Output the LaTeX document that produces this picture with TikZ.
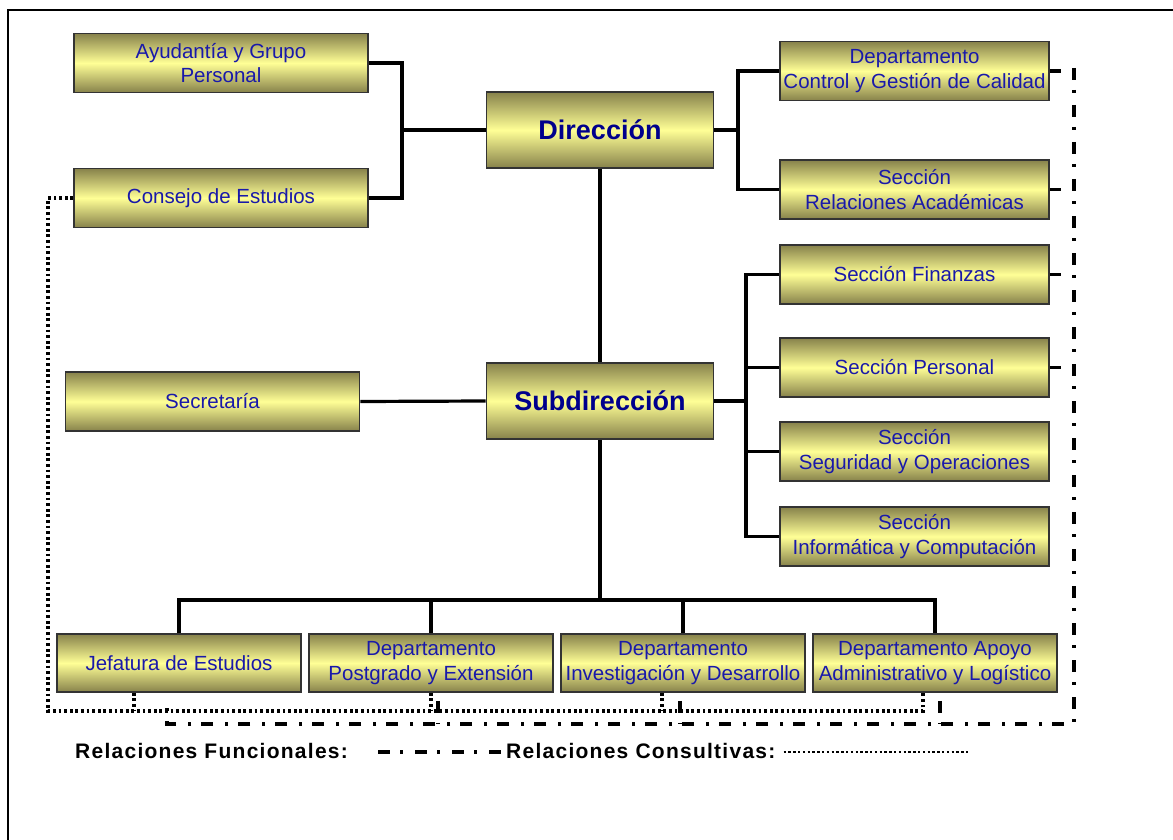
\documentclass[tikz,border=0pt]{standalone}
\usepackage{fontspec}
\setmainfont{Liberation Sans}
\usetikzlibrary{shapes}

\definecolor{boxdark}{RGB}{135,130,75}
\definecolor{boxlight}{RGB}{255,255,150}
\definecolor{boxtext}{RGB}{25,25,170}
\definecolor{headtext}{RGB}{0,0,140}

\begin{document}
\begin{tikzpicture}[x=1pt,y=-1pt]
\tikzstyle{unit}=[
	rectangle,
	draw=black!80, line width=1.6pt,
	top color=boxdark, bottom color=boxdark, middle color=boxlight,
	text=boxtext, align=center, inner sep=0pt,
	font=\fontsize{20.5}{24.5}\selectfont ]
\tikzstyle{wide}=[unit, minimum width=294pt, minimum height=59pt]
\tikzstyle{side}=[unit, minimum width=269pt, minimum height=59pt]
\tikzstyle{low}=[unit, minimum width=244pt, minimum height=58pt]
\tikzstyle{head}=[unit, minimum width=227pt, minimum height=76pt,
	text=headtext, font=\fontsize{27}{30}\selectfont\bfseries]
\tikzstyle{link}=[line width=3.2pt]
\tikzstyle{consult}=[line width=3.2pt, dash pattern=on 2.8pt off 2.8pt]
\tikzstyle{funct}=[line width=3.2pt, dash pattern=on 12pt off 10pt on 3pt off 12pt]
\tikzstyle{legend}=[inner sep=0pt, anchor=west,
	font=\fontsize{21}{24}\selectfont\bfseries\addfontfeatures{LetterSpace=6}]

\useasboundingbox (0,0) rectangle (1173,840);
\draw[line width=2.4pt] (8,840) -- (8,10) -- (1173,10);

% top level
\node[wide] (ayud) at (221,63) {Ayudantía y Grupo\\Personal};
\node[wide] (consejo) at (221,198) {Consejo de Estudios};
\node[head] (dir) at (600,130) {Dirección};
\node[side] (calidad) at (914.5,71) {Departamento\\Control y Gestión de Calidad};
\node[side] (relac) at (914.5,189.5) {Sección\\Relaciones Académicas};

% second level
\node[wide] (secret) at (212.5,401.5) {Secretaría};
\node[head] (subdir) at (600,401) {Subdirección};
\node[side] (finanzas) at (914.5,274.5) {Sección Finanzas};
\node[side] (personal) at (914.5,367.5) {Sección Personal};
\node[side] (seguridad) at (914.5,451.5) {Sección\\Seguridad y Operaciones};
\node[side] (informatica) at (914.5,536.5) {Sección\\Informática y Computación};

% departments
\node[low] (jefatura) at (179,663) {Jefatura de Estudios};
\node[low] (postgrado) at (431,663) {Departamento\\Postgrado y Extensión};
\node[low] (investig) at (683,663) {Departamento\\Investigación y Desarrollo};
\node[low] (apoyo) at (935,663) {Departamento Apoyo\\Administrativo y Logístico};

\coordinate (lb) at (402,130);
\coordinate (rb) at (738,130);
\coordinate (sb) at (746,401);
\coordinate (bb) at (600,600);
\coordinate (cbase) at (48,711);
\coordinate (ftop) at (1074,68);
\coordinate (fbase) at (1074,724);

\draw[link] (ayud.east) -| (lb) |- (consejo.east);
\draw[link] (lb) -- (dir.west);
\draw[link] (calidad.west) -| (rb) |- (relac.west);
\draw[link] (dir.east) -- (rb);
\draw[link] (dir.south) -- (subdir.north);
\draw[link] (secret.east) -- (subdir.west);
\draw[link] (finanzas.west) -| (sb) |- (informatica.west);
\draw[link] (personal.west) -- (personal.west -| sb);
\draw[link] (seguridad.west) -- (seguridad.west -| sb);
\draw[link] (subdir.east) -- (sb);
\draw[link] (subdir.south) -- (bb);
\draw[link] (jefatura.north) |- (bb) -| (apoyo.north);
\draw[link] (postgrado.north) -- (postgrado.north |- bb);
\draw[link] (investig.north) -- (investig.north |- bb);
\foreach \n in {calidad,relac,finanzas,personal}
  \draw[link] (\n.east) -- ++(11,0);

% consultative
\draw[consult] (consejo.west) -| (cbase) -| ([xshift=-12pt]apoyo.south);
\draw[consult] ([xshift=-45pt]jefatura.south) -- ([xshift=-45pt]jefatura.south |- cbase);
\draw[consult] (postgrado.south) -- (postgrado.south |- cbase);
\draw[consult] ([xshift=-21pt]investig.south) -- ([xshift=-21pt]investig.south |- cbase);

% functional
\draw[funct] (ftop) -- (fbase) -| ([xshift=-12pt,yshift=-8pt]jefatura.south);
\draw[funct] ([xshift=7pt,yshift=-8pt]postgrado.south) -- ([xshift=7pt]postgrado.south |- fbase);
\draw[funct] ([xshift=-3pt,yshift=-8pt]investig.south) -- ([xshift=-3pt]investig.south |- fbase);
\draw[funct] ([xshift=5pt,yshift=-8pt]apoyo.south) -- ([xshift=5pt]apoyo.south |- fbase);

% legend
\node[legend] (funclab) at (75,751) {Relaciones Funcionales:};
\node[legend] (conslab) at (506,751) {Relaciones Consultivas:};
\draw[funct] (378,752) coordinate (fs) -- ([xshift=-4pt]conslab.west |- fs);
\draw[consult, line width=2.8pt, dash pattern=on 2.4pt off 2.4pt] ([xshift=8pt,yshift=-1pt]conslab.east) -- ++(185,0);
\end{tikzpicture}
\end{document}
